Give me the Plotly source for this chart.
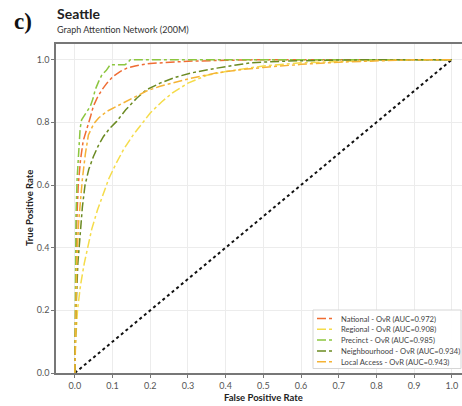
import plotly.graph_objects as go

# ---- data ----
national_fpr = [0, 0.002, 0.005, 0.009, 0.015, 0.022, 0.03, 0.036, 0.042, 0.049, 0.06, 0.072, 0.085, 0.102, 0.12, 0.138, 0.16, 0.2, 0.25, 0.3, 0.4, 0.5, 0.7, 1.0]
national_tpr = [0, 0.3, 0.48, 0.6, 0.68, 0.74, 0.77, 0.79, 0.82, 0.851, 0.88, 0.904, 0.925, 0.947, 0.962, 0.973, 0.98, 0.988, 0.992, 0.995, 0.998, 1.0, 1.0, 1.0]

regional_fpr = [0, 0.002, 0.007, 0.015, 0.025, 0.035, 0.045, 0.06, 0.075, 0.09, 0.11, 0.13, 0.155, 0.18, 0.2, 0.23, 0.26, 0.3, 0.35, 0.4, 0.45, 0.5, 0.6, 0.7, 0.8, 0.9, 1.0]
regional_tpr = [0, 0.1, 0.2, 0.28, 0.35, 0.41, 0.46, 0.52, 0.57, 0.62, 0.67, 0.715, 0.76, 0.8, 0.83, 0.865, 0.895, 0.925, 0.95, 0.962, 0.972, 0.98, 0.99, 0.995, 0.998, 1.0, 1.0]

precinct_fpr = [0, 0.001, 0.003, 0.006, 0.01, 0.014, 0.018, 0.025, 0.033, 0.041, 0.048, 0.054, 0.063, 0.072, 0.083, 0.094, 0.11, 0.125, 0.133, 0.14, 0.147, 1.0]
precinct_tpr = [0, 0.3, 0.5, 0.62, 0.72, 0.78, 0.808, 0.82, 0.835, 0.851, 0.875, 0.904, 0.93, 0.952, 0.965, 0.984, 0.984, 0.984, 0.984, 0.99, 1.0, 1.0]

neigh_fpr = [0, 0.003, 0.008, 0.015, 0.02, 0.027, 0.037, 0.049, 0.062, 0.076, 0.092, 0.111, 0.135, 0.164, 0.19, 0.226, 0.265, 0.306, 0.377, 0.465, 0.55, 0.65, 0.8, 1.0]
neigh_tpr = [0, 0.2, 0.35, 0.46, 0.53, 0.6, 0.65, 0.69, 0.725, 0.755, 0.78, 0.803, 0.84, 0.877, 0.904, 0.925, 0.943, 0.957, 0.973, 0.99, 0.995, 0.998, 1.0, 1.0]

local_fpr = [0, 0.002, 0.005, 0.01, 0.015, 0.02, 0.028, 0.036, 0.05, 0.063, 0.085, 0.111, 0.14, 0.164, 0.19, 0.226, 0.26, 0.306, 0.377, 0.44, 0.5, 0.6, 0.7, 0.8, 0.9, 1.0]
local_tpr = [0, 0.2, 0.35, 0.48, 0.56, 0.62, 0.7, 0.76, 0.795, 0.814, 0.835, 0.851, 0.868, 0.883, 0.9, 0.915, 0.926, 0.94, 0.958, 0.968, 0.975, 0.985, 0.992, 0.997, 1.0, 1.0]

diag = [0, 1]

series_names = [
    "National - OvR (AUC=0.972)",
    "Regional - OvR (AUC=0.908)",
    "Precinct - OvR (AUC=0.985)",
    "Neighbourhood - OvR (AUC=0.934)",
    "Local Access - OvR (AUC=0.943)",
]
series_colors = ["#ef6c33", "#f5dc4a", "#8cc63f", "#6b8a22", "#f5b335"]

x_ticks = [0.0, 0.1, 0.2, 0.3, 0.4, 0.5, 0.6, 0.7, 0.8, 0.9, 1.0]
y_ticks = [0.0, 0.2, 0.4, 0.6, 0.8, 1.0]

fig = go.Figure()
fig.add_trace(go.Scatter(x=diag, y=diag, mode="lines", showlegend=False,
                         line=dict(color="#111111", width=2, dash="dot"), hoverinfo="skip"))
for fx, ty, name, col in zip(
        [national_fpr, regional_fpr, precinct_fpr, neigh_fpr, local_fpr],
        [national_tpr, regional_tpr, precinct_tpr, neigh_tpr, local_tpr],
        series_names, series_colors):
    fig.add_trace(go.Scatter(x=fx, y=ty, mode="lines", name=name, showlegend=False,
                             line=dict(color=col, width=1.5, dash="dashdot")))

tick_font = dict(family="Lato", size=9, color="#555555")
fig.update_layout(
    width=462, height=406,
    margin=dict(l=56, r=0, t=44, b=33, autoexpand=False),
    paper_bgcolor="white", plot_bgcolor="white",
    font=dict(family="Lato", color="#333333"),
    xaxis=dict(range=[-0.05, 1.027], tickvals=x_ticks, ticktext=[f"{v:.1f}" for v in x_ticks],
               showgrid=True, gridcolor="#ececec", gridwidth=1, zeroline=False,
               showline=True, linecolor="#777777", linewidth=1.5, mirror=True,
               ticks="outside", ticklen=3, tickcolor="#777777", tickfont=tick_font),
    yaxis=dict(range=[0, 1.05], tickvals=y_ticks, ticktext=[f"{v:.1f}" for v in y_ticks],
               showgrid=True, gridcolor="#ececec", gridwidth=1, zeroline=False,
               showline=True, linecolor="#777777", linewidth=1.5, mirror=False,
               ticks="outside", ticklen=3, tickcolor="#777777", tickfont=tick_font),
    showlegend=False,
)

# ---- custom legend (compact, as in the reference) ----
L, T, B = 56.0, 44.0, 373.0
W, H = 462.0 - L, B - T
def px_x(px):
    return (px - L) / W
def px_y(py):
    return (B - py) / H

fig.add_shape(type="rect", xref="paper", yref="paper",
              x0=px_x(313), x1=px_x(461), y0=px_y(368.5), y1=px_y(310),
              line=dict(color="#d6d6d6", width=1), fillcolor="rgba(255,255,255,0.92)", layer="above")
item_y = [318.5, 329.3, 340.1, 350.9, 361.7]
for yy, name, col in zip(item_y, series_names, series_colors):
    fig.add_shape(type="line", xref="paper", yref="paper",
                  x0=px_x(317), x1=px_x(335), y0=px_y(yy), y1=px_y(yy),
                  line=dict(color=col, width=1.5, dash="dashdot"), layer="above")
    fig.add_annotation(text=name, xref="paper", yref="paper", x=px_x(339), y=px_y(yy),
                       xanchor="left", yanchor="middle", showarrow=False,
                       font=dict(family="Lato", size=7.6, color="#444444"))

# ---- titles ----
fig.add_annotation(text="<b>c)</b>", xref="paper", yref="paper", x=px_x(12), y=px_y(22),
                   xanchor="left", yanchor="middle", showarrow=False,
                   font=dict(family="Liberation Serif", size=23, color="#111111"))
fig.add_annotation(text="<b>Seattle</b>", xref="paper", yref="paper", x=px_x(55), y=px_y(14),
                   xanchor="left", yanchor="middle", showarrow=False,
                   font=dict(family="Lato", size=14, color="#222222"))
fig.add_annotation(text="Graph Attention Network (200M)", xref="paper", yref="paper", x=px_x(55), y=px_y(30),
                   xanchor="left", yanchor="middle", showarrow=False,
                   font=dict(family="Lato", size=9, color="#333333"))
fig.add_annotation(text="<b>True Positive Rate</b>", xref="paper", yref="paper", x=px_x(29), y=px_y(208),
                   xanchor="center", yanchor="middle", textangle=-90, showarrow=False,
                   font=dict(family="Lato", size=9.5, color="#222222"))
fig.add_annotation(text="<b>False Positive Rate</b>", xref="x", yref="paper", x=0.5, y=px_y(397),
                   xanchor="center", yanchor="middle", showarrow=False,
                   font=dict(family="Lato", size=9.5, color="#222222"))

fig.write_html("out.html", config={"displayModeBar": False},
               post_script="document.body.style.margin='0px';document.body.style.overflow='hidden';")
